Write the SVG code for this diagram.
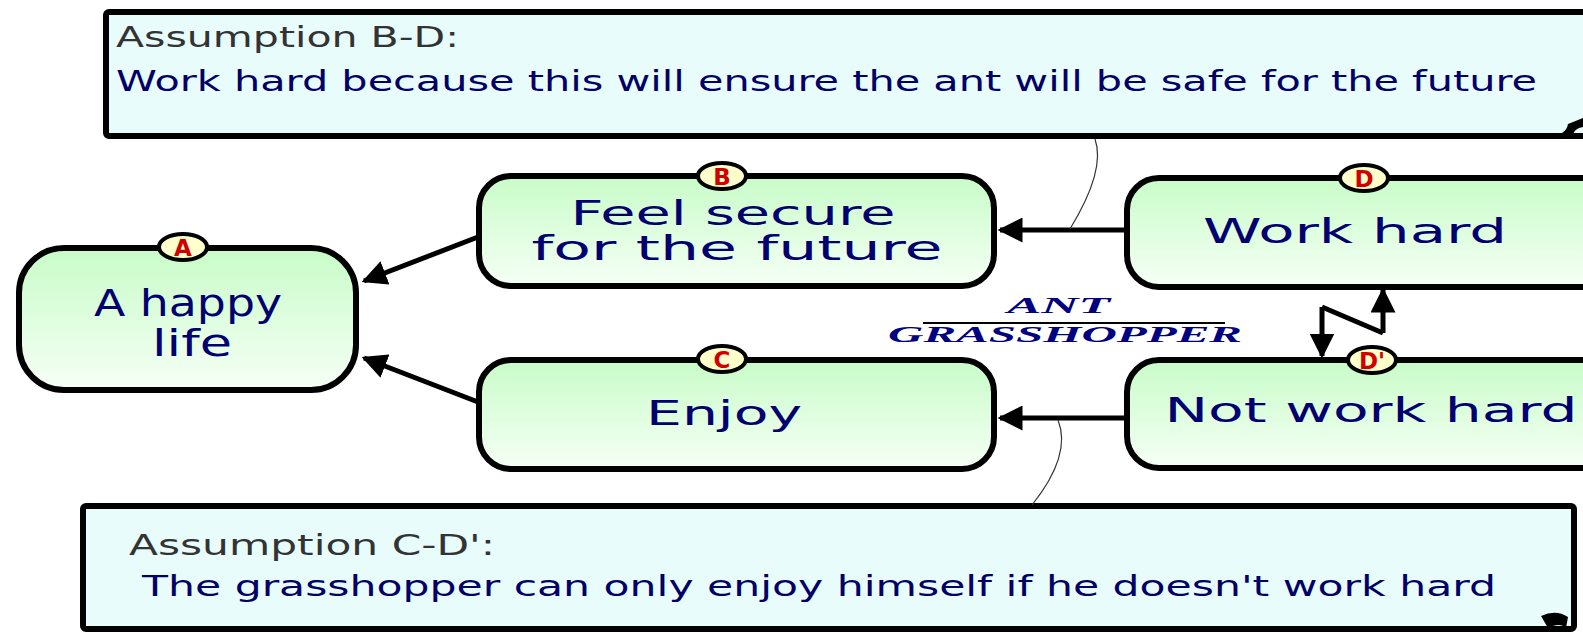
<svg xmlns="http://www.w3.org/2000/svg" width="1583" height="632" viewBox="0 0 1583 632">
<defs>
<linearGradient id="ng" x1="0" y1="0" x2="0" y2="1">
<stop offset="0" stop-color="#C8FCC8"/>
<stop offset="1" stop-color="#F6FFF6"/>
</linearGradient>
<marker id="ah" viewBox="0 0 10 10" refX="9" refY="5" markerWidth="5" markerHeight="5" markerUnits="strokeWidth" orient="auto">
<path d="M0,0 L10,5 L0,10 Z" fill="#000"/>
</marker>
<style>
.box{fill:url(#ng);stroke:#000;stroke-width:6}
.asm{fill:#E8FCFC;stroke:#000;stroke-width:6}
.nt{font-family:"DejaVu Sans",sans-serif;font-size:33px;fill:#000070;text-anchor:middle}
.at{font-family:"DejaVu Sans",sans-serif;font-size:28px;fill:#000066}
.al{font-family:"DejaVu Sans",sans-serif;font-size:29px;fill:#333333}
.bd{fill:#FFFFCC;stroke:#000;stroke-width:4}
.bl{font-family:"DejaVu Sans",sans-serif;font-size:23px;font-weight:bold;fill:#D00000;text-anchor:middle}
.ar{fill:none;stroke:#000;stroke-width:5;marker-end:url(#ah)}
.th{fill:none;stroke:#333;stroke-width:1.2}
.ag{font-family:"Liberation Serif",serif;font-style:italic;font-weight:bold;font-size:23px;fill:#000080}
</style>
</defs>

<g id="assumption-bd">
<rect class="asm" x="106" y="12" width="1500" height="124" rx="3"/>
<path d="M1548,136 Q1566,136 1568,124 L1583,118 L1583,127 Q1574,128 1572,137 Z" fill="#000"/>
<text class="al" x="116" y="47" textLength="343" lengthAdjust="spacingAndGlyphs">Assumption B-D:</text>
<text class="at" x="116" y="91" textLength="1421" lengthAdjust="spacingAndGlyphs">Work hard because this will ensure the ant will be safe for the future</text>
</g>

<g id="assumption-cd">
<rect class="asm" x="83" y="506" width="1491" height="123" rx="3"/>
<path d="M1541,616 Q1556,609 1568,617 L1566,628 Q1560,622 1548,628 Z" fill="#000"/>
<text class="al" x="129" y="555" textLength="366" lengthAdjust="spacingAndGlyphs">Assumption C-D':</text>
<text class="at" x="142" y="596" textLength="1354" lengthAdjust="spacingAndGlyphs">The grasshopper can only enjoy himself if he doesn't work hard</text>
</g>

<g id="connectors">
<path class="ar" d="M1126,230 L1000,230"/>
<path class="ar" d="M1126,418 L1000,418"/>
<path class="ar" d="M478,237 L364,281"/>
<path class="ar" d="M478,402 L364,358"/>
<path class="ar" d="M1383,333 L1383,290"/>
<path fill="none" stroke="#000" stroke-width="5" d="M1383,333 L1322,307"/>
<path class="ar" d="M1322,307 L1322,356"/>
<path class="th" d="M1095,139 Q1106,170 1070,229"/>
<path class="th" d="M1058,420 Q1072,455 1032,505"/>
</g>

<g id="ant-grasshopper">
<text class="ag" x="1007" y="313" textLength="103" lengthAdjust="spacingAndGlyphs">ANT</text>
<line x1="923" y1="323" x2="1225" y2="323" stroke="#000" stroke-width="2"/>
<text class="ag" x="888" y="342" textLength="354" lengthAdjust="spacingAndGlyphs">GRASSHOPPER</text>
</g>

<g id="node-a">
<rect class="box" x="19" y="248" width="337" height="142" rx="45"/>
<ellipse class="bd" cx="183" cy="247" rx="24" ry="13"/>
<text class="bl" x="183" y="256">A</text>
<text class="nt" x="188" y="316" style="font-size:38px" textLength="188" lengthAdjust="spacingAndGlyphs">A happy</text>
<text class="nt" x="192" y="356" style="font-size:38px" textLength="80" lengthAdjust="spacingAndGlyphs">life</text>
</g>

<g id="node-b">
<rect class="box" x="479" y="176" width="515" height="110" rx="32"/>
<ellipse class="bd" cx="722" cy="176" rx="24" ry="13"/>
<text class="bl" x="722" y="185">B</text>
<text class="nt" x="733" y="225" textLength="325" lengthAdjust="spacingAndGlyphs">Feel secure</text>
<text class="nt" x="737" y="260" textLength="411" lengthAdjust="spacingAndGlyphs">for the future</text>
</g>

<g id="node-c">
<rect class="box" x="479" y="360" width="515" height="109" rx="32"/>
<ellipse class="bd" cx="722" cy="359" rx="24" ry="13"/>
<text class="bl" x="722" y="368">C</text>
<text class="nt" x="724" y="425" textLength="156" lengthAdjust="spacingAndGlyphs">Enjoy</text>
</g>

<g id="node-d">
<rect class="box" x="1127" y="178" width="500" height="109" rx="32"/>
<ellipse class="bd" cx="1364" cy="178" rx="24" ry="13"/>
<text class="bl" x="1364" y="187">D</text>
<text class="nt" x="1355" y="243" textLength="304" lengthAdjust="spacingAndGlyphs">Work hard</text>
</g>

<g id="node-d2">
<rect class="box" x="1127" y="360" width="500" height="108" rx="32"/>
<ellipse class="bd" cx="1372" cy="360" rx="24" ry="13"/>
<text class="bl" x="1372" y="369">D'</text>
<text class="nt" x="1371" y="422" textLength="413" lengthAdjust="spacingAndGlyphs">Not work hard</text>
</g>
</svg>
